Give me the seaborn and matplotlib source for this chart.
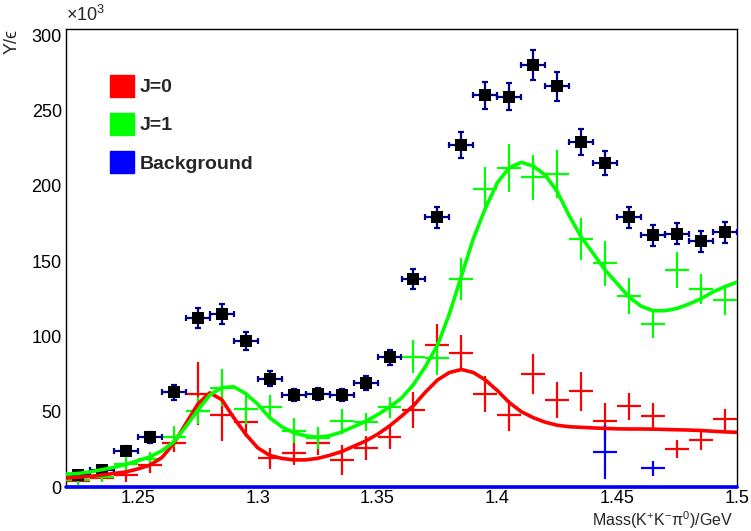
import numpy as np
import pandas as pd
import matplotlib
matplotlib.use('Agg')
import matplotlib.pyplot as plt
import seaborn as sns
from matplotlib.patches import Patch
from matplotlib.ticker import MultipleLocator, FormatStrFormatter

#Bin centres (GeV) and yields in units of 10^3
bins = [1.225, 1.235, 1.245, 1.255, 1.265, 1.275, 1.285, 1.295, 1.305, 1.315,
        1.325, 1.335, 1.345, 1.355, 1.365, 1.375, 1.385, 1.395, 1.405, 1.415,
        1.425, 1.435, 1.445, 1.455, 1.465, 1.475, 1.485, 1.495]
half_bin = 0.005

data_y = [8, 11, 24, 33, 63, 112, 115, 97, 72, 61, 62, 61, 69, 86, 138, 179,
          227, 260, 259, 280, 266, 229, 215, 179, 167, 168, 163, 169]
data_err = [2, 2.5, 3, 3.5, 5, 6.5, 6.5, 6, 5, 4, 4, 4, 4.5, 5, 6.5, 7,
            8.5, 9, 9, 10, 9.5, 8.5, 8, 7, 7, 7, 7, 7]

j0_y = [4, 6, 8, 14.5, 29, 62, 47.5, 43, 19, 22.5, 29, 18, 26, 33, 51, 94,
        89, 62, 47.5, 75, 58, 63.5, 43.5, 53.5, 47, 25, 31.5, 45]
j0_err = [2, 3, 5, 5, 6, 21, 17, 10, 7, 8, 8, 10, 8, 8, 12, 14,
          12, 12, 10, 13, 12, 13, 12, 9, 9, 6, 7, 7]

j1_y = [4.6, 6.5, 15.5, 18.5, 33.5, 50.5, 66, 52, 53, 37.5, 32.5, 43.5, 43, 53,
        86.5, 85.5, 138, 197.5, 211.5, 205.5, 207.5, 164.5, 148.5, 127, 108,
        144, 131.5, 124]
j1_err = [3, 3, 5, 5, 7, 9, 12, 10, 8, 8, 7, 8, 6, 7, 11, 11, 14, 15, 16, 15,
          16, 14, 15, 12, 9, 12, 10, 10]

bg_y = [0, 0, 0, 0, 0, 0, 0, 0, 0, 0, 0, 0, 0, 0, 0, 0,
        0, 0, 0, 0, 0, 0, 23, 0, 12.5, 0, 0, 0]
bg_err = [0, 0, 0, 0, 0, 0, 0, 0, 0, 0, 0, 0, 0, 0, 0, 0,
          0, 0, 0, 0, 0, 0, 18, 0, 5, 0, 0, 0]

#Fit curves
curve_x = [1.220, 1.225, 1.230, 1.235, 1.240, 1.245, 1.250, 1.255, 1.260, 1.265,
           1.270, 1.275, 1.280, 1.285, 1.290, 1.295, 1.300, 1.305, 1.310, 1.315,
           1.320, 1.325, 1.330, 1.335, 1.340, 1.345, 1.350, 1.355, 1.360, 1.365,
           1.370, 1.375, 1.380, 1.385, 1.390, 1.395, 1.400, 1.405, 1.410, 1.415,
           1.420, 1.425, 1.430, 1.435, 1.440, 1.445, 1.450, 1.455, 1.460, 1.465,
           1.470, 1.475, 1.480, 1.485, 1.490, 1.495, 1.500]
j1_curve = [8.5, 9, 10, 11.5, 13, 15, 17.5, 20, 24, 30,
            40, 51, 61, 66, 66.5, 62, 55, 46, 40, 36,
            34, 33, 34, 36.5, 40, 43.5, 48, 53, 59, 68,
            80, 94, 115, 140, 165, 185, 202, 212, 215.5, 213,
            207, 196, 180, 166, 155, 144, 135, 126, 120, 117,
            117, 118.5, 121.5, 125, 129.5, 133, 136]
j0_curve = [6, 6.5, 7, 8, 9, 10, 12, 14.5, 19.5, 29,
            42, 55, 62.5, 58, 46, 35, 26, 21, 19, 18,
            18, 19, 21, 23.5, 27, 30.5, 35, 40.5, 47, 54,
            63, 71, 76, 78, 76, 71, 64, 56, 50, 46,
            43, 41, 40, 39.6, 39.2, 38.9, 38.6, 38.5, 38.5, 38.4,
            38.2, 38, 37.8, 37.5, 37, 36.6, 36.3]
bg_curve = [0.0] * len(curve_x)

df_pts = pd.DataFrame({'mass': bins, 'Y': data_y})

sns.set_theme(style='white')
plt.rcParams['font.family'] = ['Liberation Sans', 'DejaVu Sans']
plt.rcParams['mathtext.fontset'] = 'custom'
plt.rcParams['mathtext.rm'] = 'Liberation Sans'
plt.rcParams['mathtext.it'] = 'Liberation Sans'
plt.rcParams['mathtext.bf'] = 'Liberation Sans:bold'

fig = plt.figure(figsize=(7.51, 5.31), dpi=100)
ax = fig.add_axes([66 / 751, 1 - 487 / 531, 671 / 751, 458 / 531])

#Component crosses
for yv, ev, col in [(j0_y, j0_err, 'red'), (j1_y, j1_err, '#00ff00'), (bg_y, bg_err, 'blue')]:
    ax.errorbar(bins, yv, xerr=half_bin, yerr=ev, fmt='none', ecolor=col,
                elinewidth=1.6, capsize=0, zorder=3)

#Data points
ax.errorbar(bins, data_y, xerr=half_bin, yerr=data_err, fmt='none', ecolor='#00008b',
            elinewidth=1.6, capsize=2.5, capthick=1.6, zorder=4)
sns.scatterplot(data=df_pts, x='mass', y='Y', marker='s', color='black', s=64,
                edgecolor='black', linewidth=0, ax=ax, zorder=5)

#Fit curves
sns.lineplot(x=curve_x, y=j0_curve, color='red', linewidth=2.6, ax=ax, zorder=6)
sns.lineplot(x=curve_x, y=j1_curve, color='#00ff00', linewidth=2.6, ax=ax, zorder=7)
ax.plot(curve_x, bg_curve, color='blue', linewidth=2.6, zorder=8, clip_on=False)

ax.set_xlim(1.22, 1.5)
ax.set_ylim(0, 304)
ax.xaxis.set_major_locator(MultipleLocator(0.05))
ax.xaxis.set_minor_locator(MultipleLocator(0.01))
ax.xaxis.set_major_formatter(FormatStrFormatter('%g'))
ax.yaxis.set_major_locator(MultipleLocator(50))
ax.yaxis.set_minor_locator(MultipleLocator(10))
ax.tick_params(axis='both', which='both', direction='in', labelsize=13, colors='black')
ax.tick_params(axis='x', which='major', length=10, width=1, pad=2)
ax.tick_params(axis='x', which='minor', length=5, width=1)
ax.tick_params(axis='y', which='major', length=15, width=1, pad=3)
ax.tick_params(axis='y', which='minor', length=8, width=1)
for sp in ax.spines.values():
    sp.set_color('black')
    sp.set_linewidth(1)

ax.set_xlabel('')
fig.text(733 / 751, 1 - 520 / 531, r'Mass(K$^{+}$K$^{-}\pi^{0}$)/GeV', fontsize=11.5,
         ha='right', va='center')
ax.set_ylabel('Y/ϵ', loc='top', fontsize=13, labelpad=8)
ax.text(0.0, 1.008, r'$\times$10$^{3}$', transform=ax.transAxes, fontsize=13,
        ha='left', va='bottom')

handles = [Patch(facecolor='red', edgecolor='red', label='J=0'),
           Patch(facecolor='#00ff00', edgecolor='#00ff00', label='J=1'),
           Patch(facecolor='blue', edgecolor='blue', label='Background')]
ax.legend(handles=handles, loc='upper left', bbox_to_anchor=(0.0656, 0.9),
          frameon=False, borderpad=0, borderaxespad=0, handlelength=1.24,
          handleheight=1.34, labelspacing=0.85, handletextpad=0.3,
          prop={'weight': 'bold', 'size': 14})

plt.savefig('out.png', dpi=100)
